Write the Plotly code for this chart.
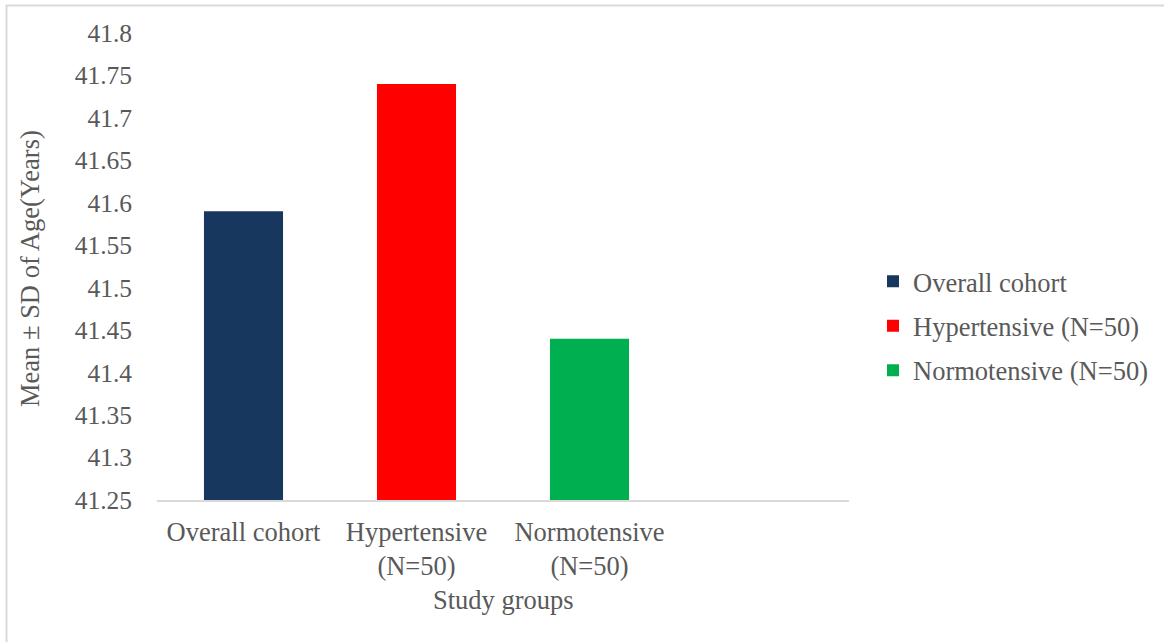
import plotly.graph_objects as go

# Study groups and mean age of each group
categories = ["Overall cohort", "Hypertensive (N=50)", "Normotensive (N=50)"]
tick_labels = ["Overall cohort", "Hypertensive<br>(N=50)", "Normotensive<br>(N=50)", ""]
mean_age = [41.59, 41.74, 41.44]
bar_colors = ["#17375E", "#FF0000", "#00B050"]

y_ticks = [41.25, 41.3, 41.35, 41.4, 41.45, 41.5, 41.55, 41.6, 41.65, 41.7, 41.75, 41.8]
y_tick_text = ["41.25", "41.3", "41.35", "41.4", "41.45", "41.5", "41.55", "41.6",
               "41.65", "41.7", "41.75", "41.8"]

FONT = "Liberation Serif, Times New Roman, serif"
GREY = "#595959"
FS = 26.5
W, H = 1164, 642
ML, MR, MT, MB = 157, 315, 33, 142
pw, ph = W - ML - MR, H - MT - MB

fig = go.Figure()
for i, (name, val, col) in enumerate(zip(categories, mean_age, bar_colors)):
    fig.add_trace(go.Bar(
        x=[i], y=[val], name=name, legendgroup=name,
        marker=dict(color=col, line=dict(width=0)), width=0.457,
    ))

fig.update_layout(
    width=W, height=H, autosize=False,
    margin=dict(l=ML, r=MR, t=MT, b=MB, pad=0),
    paper_bgcolor="white", plot_bgcolor="white",
    barmode="overlay",
    font=dict(family=FONT, size=FS, color=GREY),
    xaxis=dict(
        range=[-0.5, 3.5], tickmode="array", tickvals=[0, 1, 2, 3], ticktext=tick_labels,
        showgrid=False, zeroline=False, showline=True, linecolor="#D9D9D9", linewidth=2,
        ticks="", tickfont=dict(size=FS, color=GREY), ticklabelstandoff=7,
    ),
    yaxis=dict(
        range=[41.25, 41.8], tickmode="array", tickvals=y_ticks, ticktext=y_tick_text,
        showgrid=False, zeroline=False, showline=False, ticks="",
        tickfont=dict(size=25.5, color=GREY), ticklabelstandoff=24,
    ),
    legend=dict(
        xref="container", yref="container",
        x=873 / W, y=1 - 326 / H, yanchor="middle", xanchor="left",
        font=dict(size=FS, color=GREY), bgcolor="rgba(0,0,0,0)",
        itemwidth=30, tracegroupgap=7, traceorder="grouped",
    ),
    showlegend=True,
)

# Axis titles
fig.add_annotation(
    text="Mean ± SD of Age(Years)", textangle=-90, showarrow=False,
    xref="paper", yref="paper", x=(30 - ML) / pw, y=(H - MB - 269) / ph,
    xanchor="center", yanchor="middle", font=dict(size=FS, color=GREY),
)
fig.add_annotation(
    text="Study groups", showarrow=False,
    xref="paper", yref="paper", x=(503 - ML) / pw, y=-(600 - (H - MB)) / ph,
    xanchor="center", yanchor="middle", font=dict(size=FS, color=GREY),
)

# Chart border (left and top edges fall inside the frame)
fig.add_shape(
    type="rect", xref="paper", yref="paper",
    x0=(6.5 - ML) / pw, x1=(W + 20 - ML) / pw,
    y0=-(H + 20 - (H - MB)) / ph, y1=(H - MB - 5.5) / ph,
    line=dict(color="#D9D9D9", width=2), layer="below",
)

fig.write_html("out.html")
